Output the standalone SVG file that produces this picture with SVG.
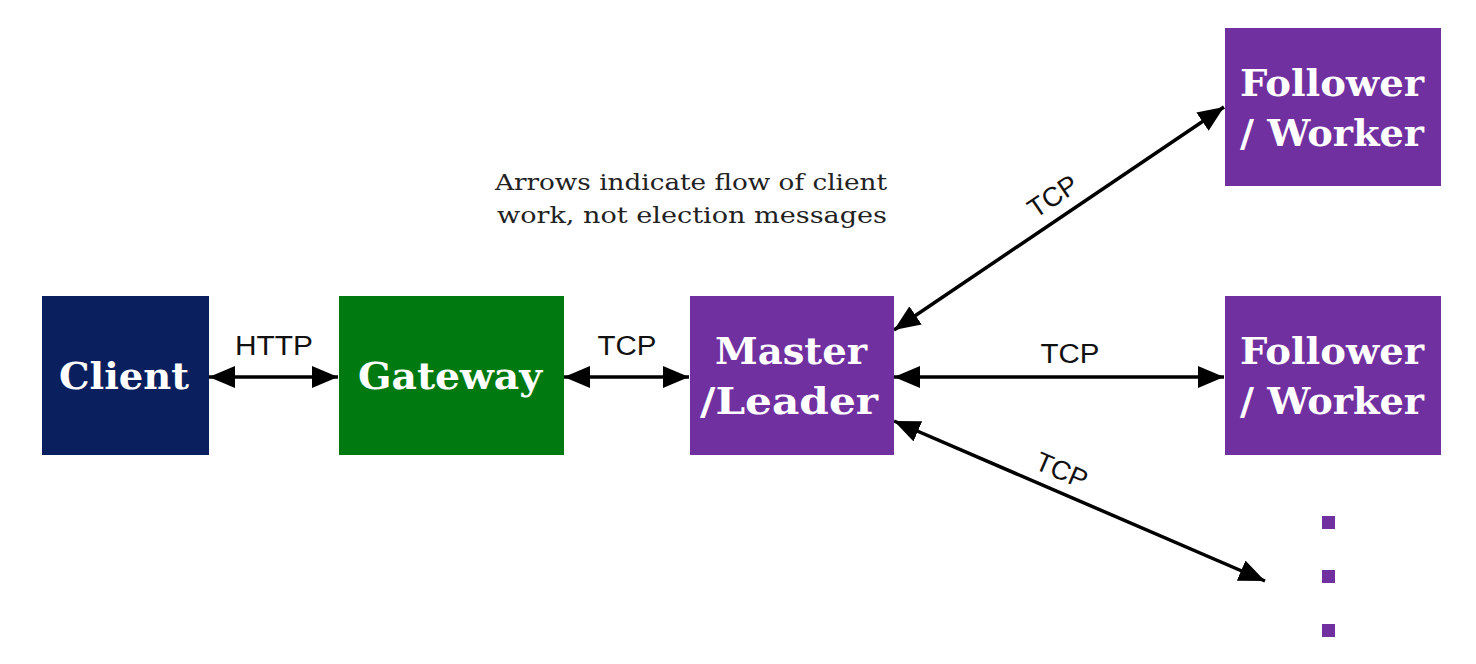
<svg xmlns="http://www.w3.org/2000/svg" width="1476" height="664" viewBox="0 0 1476 664">
<defs>
<marker id="ah" viewBox="0 0 26 22" refX="26" refY="11" markerWidth="26" markerHeight="22" markerUnits="userSpaceOnUse" orient="auto-start-reverse">
<path d="M0,0 L26,11 L0,22 z" fill="#000"/>
</marker>
<style>
.box-t{font-family:"DejaVu Serif","Liberation Serif",serif;font-weight:bold;font-size:37px;fill:#fff;text-anchor:middle}
.lbl{font-family:"Liberation Sans",Arial,sans-serif;font-size:27px;fill:#111;text-anchor:middle}
.note{font-family:"DejaVu Serif","Liberation Serif",serif;font-size:23px;fill:#222;text-anchor:middle}
.conn{stroke:#000;stroke-width:3.5;fill:none;marker-start:url(#ah);marker-end:url(#ah)}
.purple{fill:#7030A0}
</style>
</defs>
<rect width="1476" height="664" fill="#fff"/>
<g id="connectors">
<line class="conn" x1="209" y1="377" x2="338" y2="377"/>
<line class="conn" x1="564" y1="377" x2="689" y2="377"/>
<line class="conn" x1="894" y1="377" x2="1224" y2="377"/>
<line class="conn" x1="894" y1="330" x2="1224" y2="107"/>
<line class="conn" x1="894" y1="421" x2="1265" y2="581"/>
<text class="lbl" x="274" y="355" textLength="78" lengthAdjust="spacingAndGlyphs">HTTP</text>
<text class="lbl" x="627" y="355" textLength="59" lengthAdjust="spacingAndGlyphs">TCP</text>
<text class="lbl" x="1070" y="363" textLength="59" lengthAdjust="spacingAndGlyphs">TCP</text>
<text class="lbl" transform="translate(1058,204) rotate(-34)">TCP</text>
<text class="lbl" transform="translate(1058,479) rotate(23.3)">TCP</text>
</g>
<g id="note">
<text class="note" x="691" y="190" textLength="392" lengthAdjust="spacingAndGlyphs">Arrows indicate flow of client</text>
<text class="note" x="692" y="223" textLength="390" lengthAdjust="spacingAndGlyphs">work, not election messages</text>
</g>
<g id="client">
<rect x="42" y="296" width="167" height="159" fill="#0A1F5E"/>
<text class="box-t" x="124" y="389" textLength="130" lengthAdjust="spacingAndGlyphs">Client</text>
</g>
<g id="gateway">
<rect x="339" y="296" width="225" height="159" fill="#007A10"/>
<text class="box-t" x="450" y="389" textLength="184" lengthAdjust="spacingAndGlyphs">Gateway</text>
</g>
<g id="master">
<rect x="690" y="296" width="204" height="159" class="purple"/>
<text class="box-t" x="791" y="364" textLength="152" lengthAdjust="spacingAndGlyphs">Master</text>
<text class="box-t" x="789" y="414" textLength="178" lengthAdjust="spacingAndGlyphs">/Leader</text>
</g>
<g id="follower1">
<rect x="1225" y="28" width="216" height="158" class="purple"/>
<text class="box-t" x="1332" y="96" textLength="184" lengthAdjust="spacingAndGlyphs">Follower</text>
<text class="box-t" x="1332" y="146" textLength="184" lengthAdjust="spacingAndGlyphs">/ Worker</text>
</g>
<g id="follower2">
<rect x="1225" y="296" width="216" height="159" class="purple"/>
<text class="box-t" x="1332" y="364" textLength="184" lengthAdjust="spacingAndGlyphs">Follower</text>
<text class="box-t" x="1332" y="414" textLength="184" lengthAdjust="spacingAndGlyphs">/ Worker</text>
</g>
<g id="ellipsis">
<rect x="1322" y="516" width="13" height="13" class="purple"/>
<rect x="1322" y="570" width="13" height="13" class="purple"/>
<rect x="1322" y="624" width="13" height="13" class="purple"/>
</g>
</svg>
